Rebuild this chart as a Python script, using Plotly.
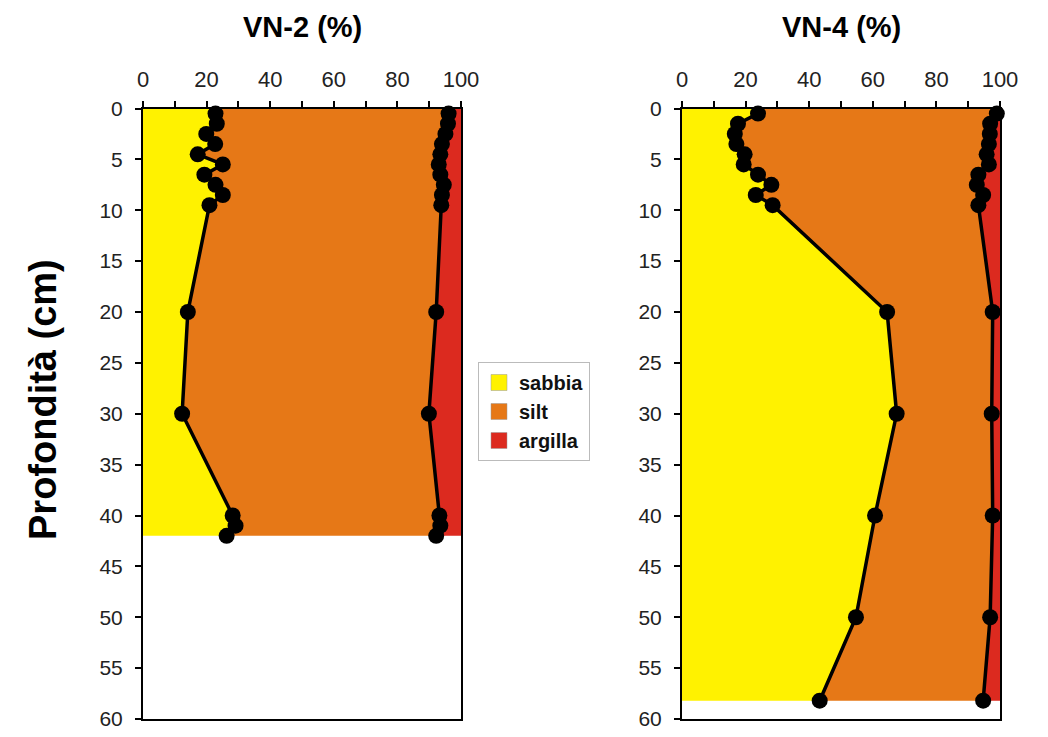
import plotly.graph_objects as go

# ---- data ----
depth_vn2 = [0.5, 1.5, 2.5, 3.5, 4.5, 5.5, 6.5, 7.5, 8.5, 9.5, 20, 30, 40, 41, 42]
sabbia_vn2 = [22.8, 23.2, 19.9, 22.7, 17.2, 25.1, 19.3, 22.8, 25.1, 20.9, 14.1, 12.3, 28.2, 29.1, 26.3]
cum_silt_vn2 = [96.1, 95.9, 95.1, 94.0, 93.5, 93.0, 93.5, 94.6, 94.0, 93.8, 92.2, 89.9, 93.2, 93.5, 92.2]

depth_vn4 = [0.5, 1.5, 2.5, 3.5, 4.5, 5.5, 6.5, 7.5, 8.5, 9.5, 20, 30, 40, 50, 58.2]
sabbia_vn4 = [23.9, 17.6, 16.6, 17.1, 19.7, 19.4, 23.9, 28.1, 23.2, 28.5, 64.5, 67.5, 60.7, 54.7, 43.3]
cum_silt_vn4 = [99.0, 96.9, 96.8, 96.5, 95.8, 96.5, 93.2, 92.7, 94.7, 93.2, 97.7, 97.4, 97.7, 96.9, 94.7]

titles = ["VN-2 (%)", "VN-4 (%)"]
classes = ["sabbia", "silt", "argilla"]
colors = {"sabbia": "#FFF200", "silt": "#E67817", "argilla": "#DC2A1F"}
x_ticks = [0, 20, 40, 60, 80, 100]
y_ticks = list(range(0, 61, 5))
y_title = "Profondità (cm)"

profiles = [(depth_vn2, sabbia_vn2, cum_silt_vn2), (depth_vn4, sabbia_vn4, cum_silt_vn4)]

fig = go.Figure()
FONT = "Liberation Sans, Arial, sans-serif"

for i, (d, s, c) in enumerate(profiles):
    xa = "x" if i == 0 else "x2"
    ya = "y" if i == 0 else "y2"
    dd = [0] + d
    ss = [s[0]] + s
    cc = [c[0]] + c
    last = d[-1]
    polys = {
        "sabbia": ([0] + ss + [0], [0] + dd + [last]),
        "silt": (ss + cc[::-1], dd + dd[::-1]),
        "argilla": (cc + [100] * len(dd), dd + dd[::-1]),
    }
    for k in classes:
        px, py = polys[k]
        fig.add_trace(go.Scatter(x=px, y=py, fill="toself", mode="none", fillcolor=colors[k],
                                 showlegend=False, xaxis=xa, yaxis=ya, hoverinfo="skip"))
    for vals in (s, c):
        fig.add_trace(go.Scatter(x=vals, y=d, mode="lines+markers",
                                 line=dict(color="black", width=3.5),
                                 marker=dict(color="black", size=16),
                                 showlegend=False, xaxis=xa, yaxis=ya, cliponaxis=False))

# legend entries (square swatches)
for k in classes:
    fig.add_trace(go.Scatter(x=[None], y=[None], mode="markers", name=k,
                             marker=dict(symbol="square", size=20, color=colors[k],
                                         line=dict(color="#999999", width=0.5))))

xdoms = [[143 / 1048, 461 / 1048], [682 / 1048, 1000 / 1048]]
ydom = [1 - 719 / 737, 1 - 108.5 / 737]

axis_common = dict(showline=True, linecolor="black", linewidth=2, mirror=True,
                   ticks="outside", tickcolor="black", tickwidth=2, ticklen=6,
                   showgrid=False, zeroline=False, automargin=False)

layout = dict(
    width=1048, height=737, margin=dict(l=0, r=0, t=0, b=0),
    plot_bgcolor="white", paper_bgcolor="white",
    font=dict(family=FONT, color="#222222"),
    legend=dict(x=478 / 1048, y=1 - 362 / 737, xanchor="left", yanchor="top",
                bordercolor="#BBBBBB", borderwidth=1, bgcolor="white",
                font=dict(family=FONT, size=20, color="#111111", weight="bold"),
                itemwidth=30, tracegroupgap=0),
)
for i in range(2):
    sx = "" if i == 0 else "2"
    layout["xaxis" + sx] = dict(axis_common, domain=xdoms[i], range=[0, 100], side="top",
                                anchor="y" + sx, tickmode="array", tickvals=list(range(0, 101, 10)),
                                ticktext=[str(v) if v in x_ticks else "" for v in range(0, 101, 10)],
                                tickfont=dict(size=22), ticklabelstandoff=5)
    layout["yaxis" + sx] = dict(axis_common, domain=ydom, range=[60, 0], anchor="x" + sx,
                                tickmode="array", tickvals=y_ticks,
                                tickfont=dict(size=21), ticklabelstandoff=8)

fig.update_layout(**layout)

for i, t in enumerate(titles):
    fig.add_annotation(text=t, x=sum(xdoms[i]) / 2, y=1 - 27 / 737, xref="paper", yref="paper",
                       showarrow=False, font=dict(size=29, weight="bold", color="black", family=FONT),
                       xanchor="center", yanchor="middle")

fig.add_annotation(text=y_title, x=43 / 1048, y=1 - 400 / 737, xref="paper", yref="paper",
                   textangle=-90, showarrow=False, xanchor="center", yanchor="middle",
                   font=dict(size=38, weight="bold", color="black", family=FONT))

fig.write_html("out.html")
